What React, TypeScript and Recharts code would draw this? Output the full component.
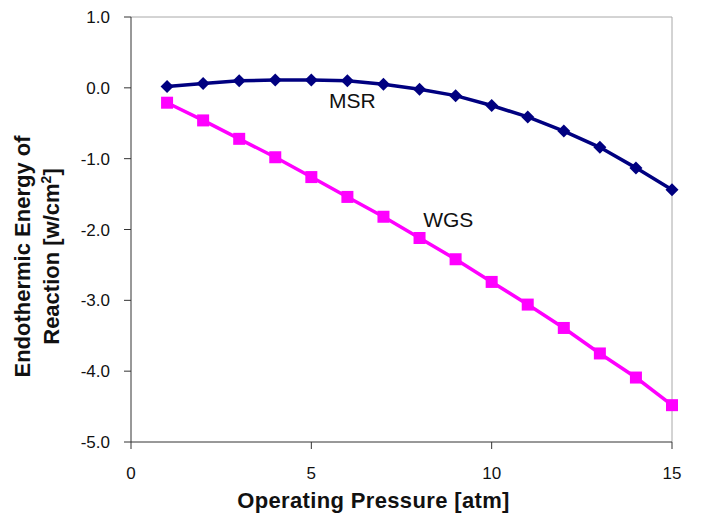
import { LineChart, Line, XAxis, YAxis, ReferenceLine, ReferenceDot } from "recharts";

// pressure [atm] and reaction energies [w/cm2]
const pressure = [1, 2, 3, 4, 5, 6, 7, 8, 9, 10, 11, 12, 13, 14, 15];
const msr = [0.02, 0.06, 0.1, 0.11, 0.11, 0.1, 0.05, -0.02, -0.11, -0.25, -0.41, -0.61, -0.84, -1.13, -1.44];
const wgs = [-0.21, -0.46, -0.72, -0.98, -1.26, -1.54, -1.82, -2.12, -2.42, -2.74, -3.06, -3.39, -3.75, -4.09, -4.48];
const xTicks = [0, 5, 10, 15];
const yTicks = [-5, -4, -3, -2, -1, 0, 1];

const data = pressure.map((p, i) => ({ p, msr: msr[i], wgs: wgs[i] }));

const FONT = "'Liberation Sans', Arial, sans-serif";
const NAVY = "#000080";
const MAGENTA = "#ff00ff";

// diamond marker for MSR
function Diamond(props: any) {
  const { cx, cy, index } = props;
  if (cx == null || cy == null) return null;
  const s = 6.5;
  return (
    <path
      key={`d-${index}`}
      d={`M${cx},${cy - s}L${cx + s},${cy}L${cx},${cy + s}L${cx - s},${cy}Z`}
      fill={NAVY}
    />
  );
}

// square marker for WGS
function Square(props: any) {
  const { cx, cy, index } = props;
  if (cx == null || cy == null) return null;
  return <rect key={`s-${index}`} x={cx - 6} y={cy - 6} width={12} height={12} fill={MAGENTA} />;
}

function seriesLabel(text: string) {
  return (p: any) => (
    <text x={p.cx} y={p.cy} dominantBaseline="central" fontFamily={FONT} fontSize={21} fill="#111">
      {text}
    </text>
  );
}

function XTitle({ viewBox }: any) {
  const x = viewBox.x + viewBox.width / 2 - 28;
  return (
    <text
      x={x}
      y={viewBox.y + 66}
      textAnchor="middle"
      fontFamily={FONT}
      fontSize={22}
      fontWeight="bold"
      letterSpacing={0.35}
      fill="#111"
    >
      Operating Pressure [atm]
    </text>
  );
}

function YTitle({ viewBox }: any) {
  const cy = viewBox.y + viewBox.height / 2 + 27;
  return (
    <g fontFamily={FONT} fontSize={22} fontWeight="bold" fill="#111">
      <text x={30} y={cy} textAnchor="middle" transform={`rotate(-90 30 ${cy})`}>
        Endothermic Energy of
      </text>
      <text x={59} y={cy} textAnchor="middle" transform={`rotate(-90 59 ${cy})`}>
        Reaction [w/cm<tspan dy={-8} fontSize={14}>2</tspan>
        <tspan dy={8}>]</tspan>
      </text>
    </g>
  );
}

export default function App() {
  const tickStyle = { fontFamily: FONT, fontSize: 17, fill: "#111" };
  return (
    <div style={{ position: "absolute", left: 0, top: 0, background: "#fff" }}>
      <LineChart width={701} height={513} data={data} margin={{ top: 17, right: 29, bottom: 0, left: 0 }}>
        <XAxis
          dataKey="p"
          type="number"
          domain={[0, 15]}
          ticks={xTicks}
          height={71}
          stroke="#333"
          tickSize={7}
          tickMargin={18}
          tick={tickStyle}
          tickLine={{ stroke: "#333" }}
          label={<XTitle />}
        />
        <YAxis
          type="number"
          domain={[-5, 1]}
          ticks={yTicks}
          width={131}
          stroke="#333"
          tickSize={7}
          tickMargin={14}
          tick={tickStyle}
          tickFormatter={(v: number) => v.toFixed(1)}
          label={<YTitle />}
        />
        <ReferenceLine y={1} stroke="#a8a8a8" strokeWidth={1} />
        <ReferenceLine x={15} stroke="#a8a8a8" strokeWidth={1} />
        <Line
          dataKey="msr"
          type="linear"
          stroke={NAVY}
          strokeWidth={3.5}
          dot={Diamond}
          activeDot={false}
          isAnimationActive={false}
        />
        <Line
          dataKey="wgs"
          type="linear"
          stroke={MAGENTA}
          strokeWidth={3.5}
          dot={Square}
          activeDot={false}
          isAnimationActive={false}
        />
        <ReferenceDot x={5.49} y={-0.18} r={0} shape={seriesLabel("MSR")} />
        <ReferenceDot x={8.1} y={-1.86} r={0} shape={seriesLabel("WGS")} />
      </LineChart>
    </div>
  );
}
